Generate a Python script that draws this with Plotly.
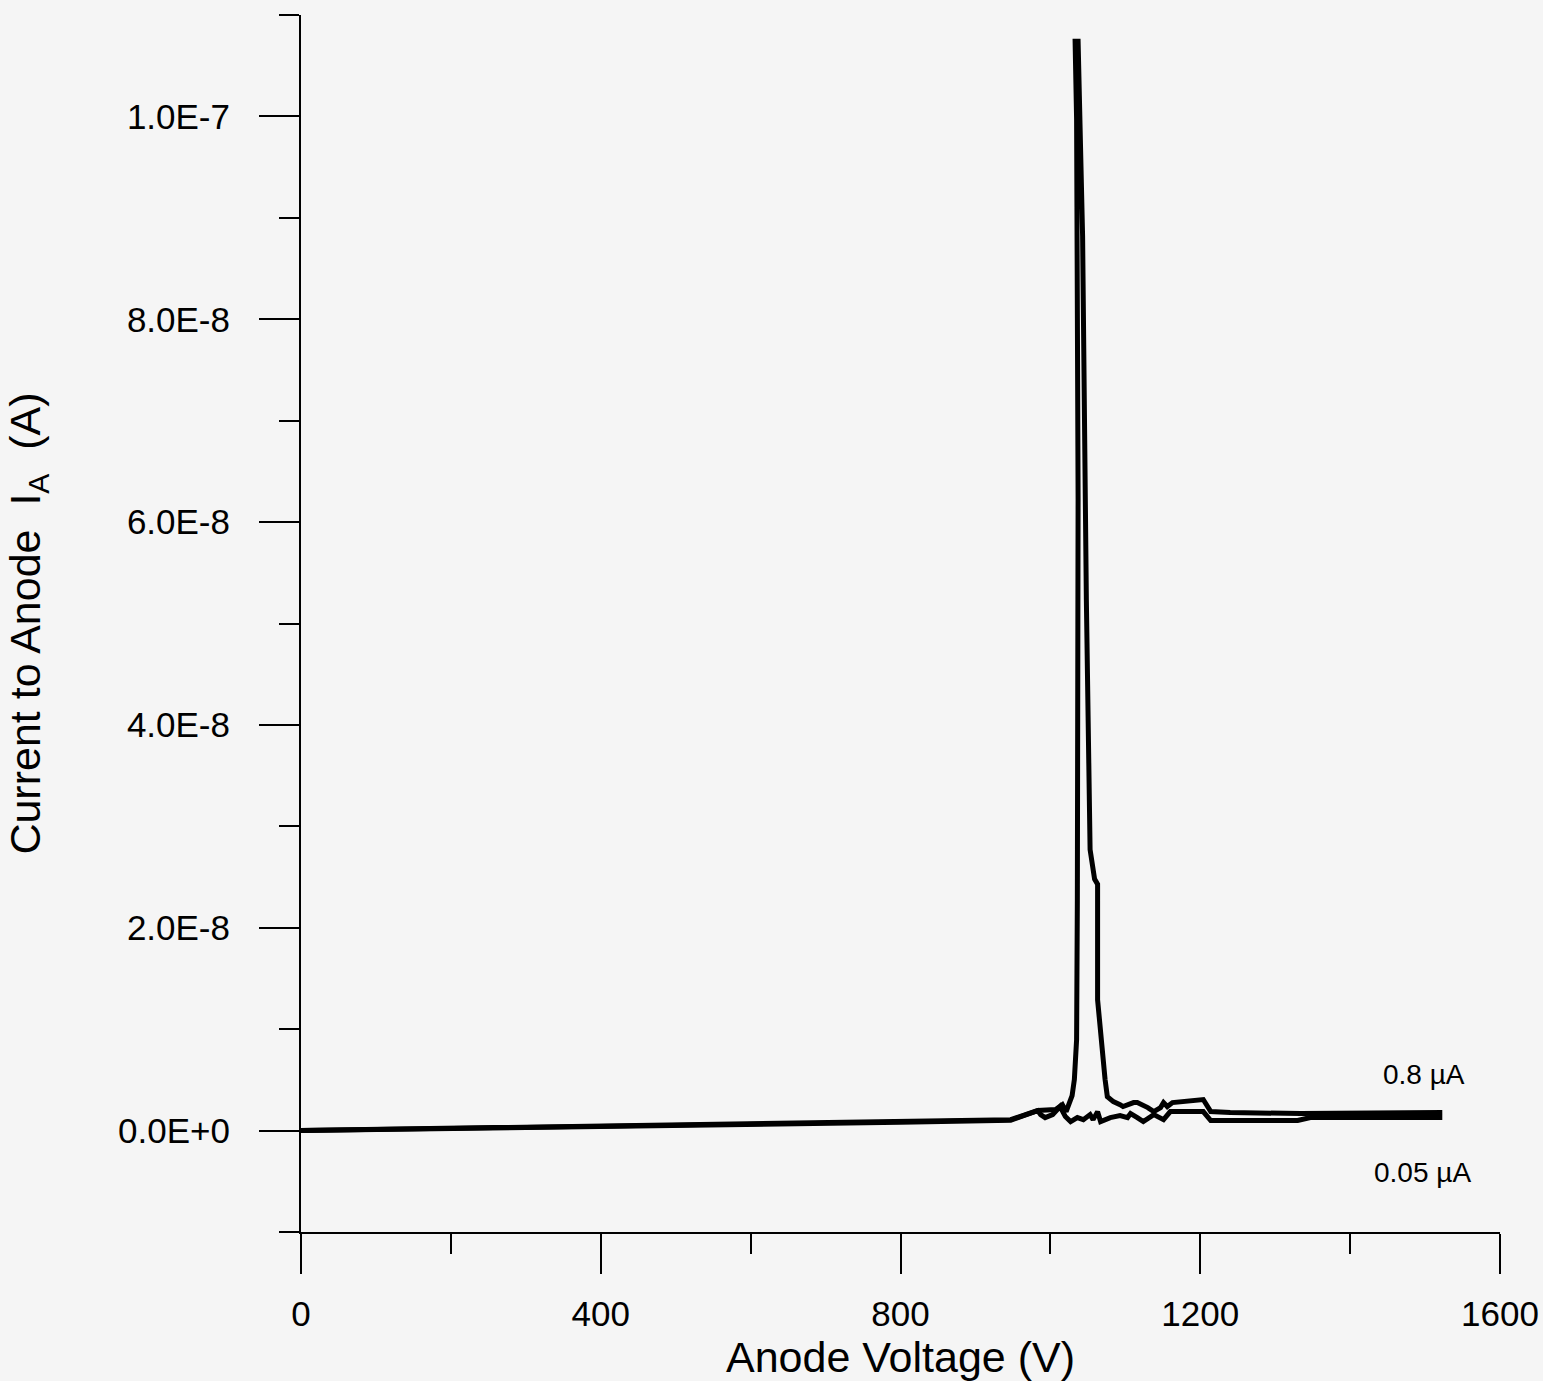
import plotly.graph_objects as go

# Anode voltage (V) and current to anode (A)
v_08 = [0, 266, 533, 800, 947, 983, 1007, 1016, 1021, 1024, 1029, 1032, 1035, 1036, 1037, 1035,
        1033, 1037, 1040, 1043, 1048, 1053, 1059, 1063, 1063, 1067, 1071, 1073, 1076, 1084, 1093,
        1097, 1111, 1116, 1130, 1138, 1147, 1151, 1156, 1163, 1204, 1214, 1240, 1334, 1523]
i_08 = [0.0, 0.30, 0.59, 0.89, 1.08, 1.97, 2.07, 2.56, 1.87, 2.47, 3.45, 5.03, 8.97, 22.7, 62.2, 99.7,
        107.4, 107.4, 99.7, 88.2, 52.4, 27.7, 24.8, 24.3, 12.9, 9.27, 7.00, 5.03, 3.35, 2.86, 2.56,
        2.37, 2.76, 2.76, 2.27, 1.87, 2.27, 2.76, 2.37, 2.76, 3.06, 1.87, 1.78, 1.68, 1.78]

v_005 = [0, 266, 533, 800, 947, 983, 987, 993, 1003, 1013, 1020, 1027, 1036, 1044, 1053, 1057,
         1063, 1067, 1080, 1093, 1103, 1107, 1116, 1124, 1138, 1151, 1160, 1170, 1204, 1214, 1240,
         1330, 1347, 1523]
i_005 = [0.0, 0.25, 0.52, 0.82, 1.02, 1.97, 1.58, 1.28, 1.58, 2.37, 1.38, 0.89, 1.28, 1.08, 1.58, 1.08,
         1.87, 0.89, 1.28, 1.48, 1.28, 1.68, 1.28, 0.89, 1.58, 1.08, 1.87, 1.87, 1.87, 0.99, 0.99,
         0.99, 1.28, 1.28]

x_major = [0, 400, 800, 1200, 1600]
x_minor = [200, 600, 1000, 1400]
y_major = [0, 2e-8, 4e-8, 6e-8, 8e-8, 1e-7]
y_major_text = ["0.0E+0", "2.0E-8", "4.0E-8", "6.0E-8", "8.0E-8", "1.0E-7"]
y_minor = [-1e-8, 1e-8, 3e-8, 5e-8, 7e-8, 9e-8, 1.1e-7]

curve_labels = ["0.8 \u00b5A", "0.05 \u00b5A"]
label_v = [1499, 1497]
label_i = [5.5e-9, -4.1e-9]

FONT = "Liberation Sans, Arial, Helvetica, sans-serif"
BG = "#f5f5f5"

fig = go.Figure()
fig.add_trace(go.Scatter(x=v_08, y=[i * 1e-9 for i in i_08], mode="lines",
                         line=dict(color="black", width=5), name=curve_labels[0],
                         showlegend=False))
fig.add_trace(go.Scatter(x=v_005, y=[i * 1e-9 for i in i_005], mode="lines",
                         line=dict(color="black", width=5), name=curve_labels[1],
                         showlegend=False))

for txt, vx, iy in zip(curve_labels, label_v, label_i):
    fig.add_annotation(x=vx, y=iy, text=txt, showarrow=False,
                       font=dict(family=FONT, size=28, color="black"))

fig.update_layout(
    width=1543, height=1381,
    margin=dict(l=301, r=43, t=15, b=149),
    paper_bgcolor=BG, plot_bgcolor=BG,
    font=dict(family=FONT, color="black"),
)

fig.update_xaxes(
    range=[0, 1600], showgrid=False, zeroline=False, automargin=False,
    showline=True, linecolor="black", linewidth=2,
    tickmode="array", tickvals=x_major, ticks="outside", ticklen=40, tickwidth=2,
    tickcolor="black", tickfont=dict(size=35, family=FONT), ticklabelstandoff=10,
    minor=dict(tickmode="array", tickvals=x_minor, ticks="outside", ticklen=20,
               tickwidth=2, tickcolor="black", showgrid=False),
    title=dict(text="Anode Voltage (V)", font=dict(size=43, family=FONT), standoff=0),
)
fig.update_yaxes(
    range=[-1e-8, 1.1e-7], showgrid=False, zeroline=False, automargin=False,
    showline=True, linecolor="black", linewidth=2,
    tickmode="array", tickvals=y_major, ticktext=y_major_text, ticks="outside",
    ticklen=40, tickwidth=2, tickcolor="black", tickfont=dict(size=35, family=FONT),
    ticklabelstandoff=22,
    minor=dict(tickmode="array", tickvals=y_minor, ticks="outside", ticklen=20,
               tickwidth=2, tickcolor="black", showgrid=False),
    title=dict(text="Current to Anode\u00a0\u00a0I<sub>A</sub>\u00a0\u00a0(A)",
               font=dict(size=43, family=FONT), standoff=64),
)

fig.write_html(
    "out.html",
    config={"displayModeBar": False},
    post_script="document.body.style.margin='0';document.body.style.overflow='hidden';"
                "document.body.style.background='" + BG + "';",
)
